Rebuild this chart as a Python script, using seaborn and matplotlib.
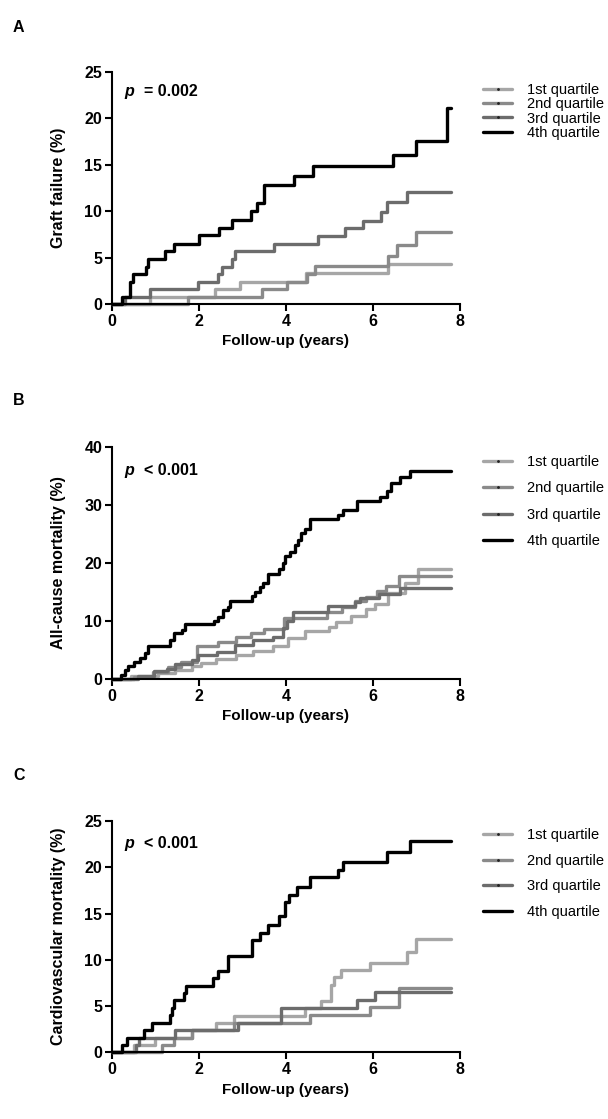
import numpy as np
import pandas as pd
import matplotlib
matplotlib.use("Agg")
import matplotlib.pyplot as plt
from matplotlib.lines import Line2D
import seaborn as sns

# ---- data (time in years, cumulative %) ----
end_time = 7.8
groups = ['1st quartile', '2nd quartile', '3rd quartile', '4th quartile']
colors = ['#a6a6a6', '#8a8a8a', '#6c6c6c', '#000000']
x_ticks = [0, 2, 4, 6, 8]

# A: graft failure
a_q1_t = [0.88, 2.37, 2.95, 4.46, 6.36]
a_q1_v = [0.8, 1.6, 2.4, 3.3, 4.3]
a_q2_t = [1.75, 3.45, 4.02, 4.48, 4.67, 6.36, 6.55, 7.0]
a_q2_v = [0.8, 1.6, 2.4, 3.2, 4.1, 5.2, 6.4, 7.8]
a_q3_t = [0.31, 0.88, 1.99, 2.45, 2.54, 2.77, 2.83, 3.74, 4.74, 5.36, 5.78, 6.2, 6.32, 6.78]
a_q3_v = [0.8, 1.6, 2.4, 3.2, 4.0, 4.9, 5.7, 6.5, 7.3, 8.2, 9.0, 9.9, 11.0, 12.1]
a_q4_t = [0.23, 0.42, 0.48, 0.78, 0.82, 1.22, 1.42, 2.0, 2.47, 2.77, 3.19, 3.33, 3.5,
          4.2, 4.63, 6.47, 6.99, 7.7]
a_q4_v = [0.8, 2.4, 3.2, 4.0, 4.9, 5.7, 6.5, 7.4, 8.2, 9.1, 10.0, 10.9, 12.8,
          13.8, 14.9, 16.1, 17.6, 21.1]

# B: all-cause mortality
b_q1_t = [0.45, 1.05, 1.45, 1.85, 2.05, 2.4, 2.85, 3.25, 3.7, 4.05, 4.45, 5.0, 5.15,
          5.5, 5.85, 6.05, 6.35, 6.75, 7.05]
b_q1_v = [0.5, 1.0, 1.6, 2.2, 2.8, 3.4, 4.1, 4.8, 5.7, 7.0, 8.2, 9.0, 9.9,
          10.8, 12.0, 13.0, 14.8, 16.6, 18.9]
b_q2_t = [0.5, 0.95, 1.3, 1.6, 1.95, 2.45, 2.85, 3.2, 3.5, 3.95, 4.95, 5.3, 5.6,
          5.85, 6.1, 6.3, 6.6]
b_q2_v = [0.4, 1.2, 2.0, 3.0, 5.6, 6.4, 7.2, 7.9, 8.6, 10.5, 11.5, 12.4, 13.4,
          14.2, 15.2, 16.0, 17.7]
b_q3_t = [0.61, 0.96, 1.26, 1.45, 1.84, 1.99, 2.41, 2.83, 3.25, 3.71, 3.94, 4.02, 4.17,
          4.98, 5.6, 5.7, 6.15, 6.62]
b_q3_v = [0.5, 1.3, 1.8, 2.6, 3.3, 4.1, 4.7, 5.8, 6.7, 7.3, 8.8, 10.0, 11.6,
          12.5, 13.3, 14.0, 14.7, 15.6]
b_q4_t = [0.21, 0.31, 0.38, 0.5, 0.65, 0.77, 0.84, 1.34, 1.42, 1.61, 1.68, 2.34, 2.45,
          2.55, 2.68, 2.72, 3.22, 3.29, 3.41, 3.48, 3.6, 3.85, 3.93, 3.98, 4.1, 4.21,
          4.29, 4.36, 4.44, 4.56, 5.21, 5.32, 5.63, 6.16, 6.32, 6.43, 6.62, 6.85]
b_q4_v = [0.7, 1.5, 2.2, 3.0, 3.7, 4.5, 5.6, 6.7, 7.9, 8.5, 9.4, 10.0, 10.7,
          11.8, 12.4, 13.4, 14.3, 15.0, 15.9, 16.6, 18.1, 18.9, 20.0, 21.1, 21.9, 23.1,
          24.0, 25.1, 25.9, 27.6, 28.2, 29.1, 30.7, 31.4, 32.4, 33.7, 34.8, 35.9]

# C: cardiovascular mortality
c_q1_t = [0.5, 1.0, 1.85, 2.4, 2.8, 4.45, 4.82, 5.05, 5.1, 5.28, 5.93, 6.78, 7.0]
c_q1_v = [0.8, 1.6, 2.4, 3.2, 3.9, 4.75, 5.5, 7.3, 8.1, 8.9, 9.7, 10.8, 12.2]
c_q2_t = [1.15, 1.42, 1.85, 2.8, 4.55, 5.93, 6.6]
c_q2_v = [0.8, 1.6, 2.4, 3.2, 4.0, 4.9, 7.0]
c_q3_t = [0.55, 0.62, 1.45, 2.9, 3.9, 5.63, 6.05]
c_q3_v = [0.8, 1.6, 2.4, 3.2, 4.8, 5.6, 6.5]
c_q4_t = [0.23, 0.34, 0.73, 0.92, 1.34, 1.38, 1.42, 1.67, 1.71, 2.32, 2.45, 2.68, 3.22,
          3.41, 3.6, 3.85, 3.98, 4.08, 4.25, 4.56, 5.21, 5.32, 6.34, 6.85]
c_q4_v = [0.8, 1.6, 2.4, 3.2, 4.0, 4.8, 5.6, 6.4, 7.2, 8.0, 8.8, 10.4, 12.1,
          12.9, 13.8, 14.7, 16.2, 17.0, 17.9, 18.9, 19.7, 20.6, 21.6, 22.8]

panels = [
    ('A', 'Graft failure (%)', '= 0.002', [0, 5, 10, 15, 20, 25],
     [(a_q1_t, a_q1_v), (a_q2_t, a_q2_v), (a_q3_t, a_q3_v), (a_q4_t, a_q4_v)]),
    ('B', 'All-cause mortality (%)', '< 0.001', [0, 10, 20, 30, 40],
     [(b_q1_t, b_q1_v), (b_q2_t, b_q2_v), (b_q3_t, b_q3_v), (b_q4_t, b_q4_v)]),
    ('C', 'Cardiovascular mortality (%)', '< 0.001', [0, 5, 10, 15, 20, 25],
     [(c_q1_t, c_q1_v), (c_q2_t, c_q2_v), (c_q3_t, c_q3_v), (c_q4_t, c_q4_v)]),
]


def build_frame(curves):
    rows = []
    for g, (t, v) in zip(groups, curves):
        xs = [0.0] + list(t) + [end_time]
        ys = [0.0] + list(v) + [v[-1]]
        for x, y in zip(xs, ys):
            rows.append({'time': x, 'pct': y, 'group': g})
    return pd.DataFrame(rows)


sns.set_style('ticks')
plt.rcParams['font.family'] = ['Liberation Sans', 'DejaVu Sans']
plt.rcParams.update({'text.color': 'black', 'axes.labelcolor': 'black',
                     'xtick.color': 'black', 'ytick.color': 'black',
                     'axes.edgecolor': 'black'})

fig = plt.figure(figsize=(6.08, 11.19), dpi=100)
axes_pos = [[0.184, 0.7283, 0.572, 0.2073],
            [0.184, 0.3932, 0.572, 0.2076],
            [0.184, 0.0596, 0.572, 0.2067]]
letter_y = [1 - 32 / 1119, 1 - 405 / 1119, 1 - 780 / 1119]
p_y = [0.897, 0.878, 0.883]
legend_top = [1 - 83 / 1119, 1 - 455 / 1119, 1 - 828 / 1119]
legend_space = [0.02, 0.85, 0.8]

for i, (letter, ylabel, ptxt, yticks, curves) in enumerate(panels):
    ax = fig.add_axes(axes_pos[i])
    df = build_frame(curves)
    sns.lineplot(data=df, x='time', y='pct', hue='group', hue_order=groups,
                 palette=colors, estimator=None, errorbar=None, sort=False,
                 drawstyle='steps-post', linewidth=2.4, legend=False, ax=ax)
    for ln in ax.lines:
        ln.set_clip_on(False)

    ax.set_xlim(0, 8)
    ax.set_ylim(0, yticks[-1])
    ax.set_xticks(x_ticks)
    ax.set_yticks(yticks)
    sns.despine(ax=ax)
    for s in ['left', 'bottom']:
        ax.spines[s].set_linewidth(1.5)
    ax.tick_params(width=1.5, length=5, pad=2, labelsize=11.5)
    for lab in ax.get_xticklabels() + ax.get_yticklabels():
        lab.set_fontweight('bold')
    ax.set_xlabel('Follow-up (years)', fontsize=11, fontweight='bold', labelpad=4)
    ax.set_ylabel(ylabel, fontsize=11.5, fontweight='bold', labelpad=13)

    ax.text(0.037, p_y[i], 'p', transform=ax.transAxes, fontsize=11.5,
            fontweight='bold', fontstyle='italic', va='baseline')
    ax.text(0.093, p_y[i], ptxt, transform=ax.transAxes, fontsize=11.5,
            fontweight='bold', va='baseline')

    fig.text(13 / 608, letter_y[i], letter, fontsize=11.5, fontweight='bold',
             va='baseline')

    handles = []
    for k, c in enumerate(colors):
        if k < 3:
            handles.append(Line2D([], [], color=c, lw=2.4, marker='.', markersize=2,
                                  markerfacecolor='#222222', markeredgecolor='#222222'))
        else:
            handles.append(Line2D([], [], color=c, lw=2.4))
    ax.legend(handles, groups, loc='upper left',
              bbox_to_anchor=(483 / 608, legend_top[i]), bbox_transform=fig.transFigure,
              frameon=False, fontsize=10.5, borderpad=0, borderaxespad=0,
              handlelength=2.0, handletextpad=1.0, labelspacing=legend_space[i],
              numpoints=1)

fig.savefig('out.png', dpi=100)
